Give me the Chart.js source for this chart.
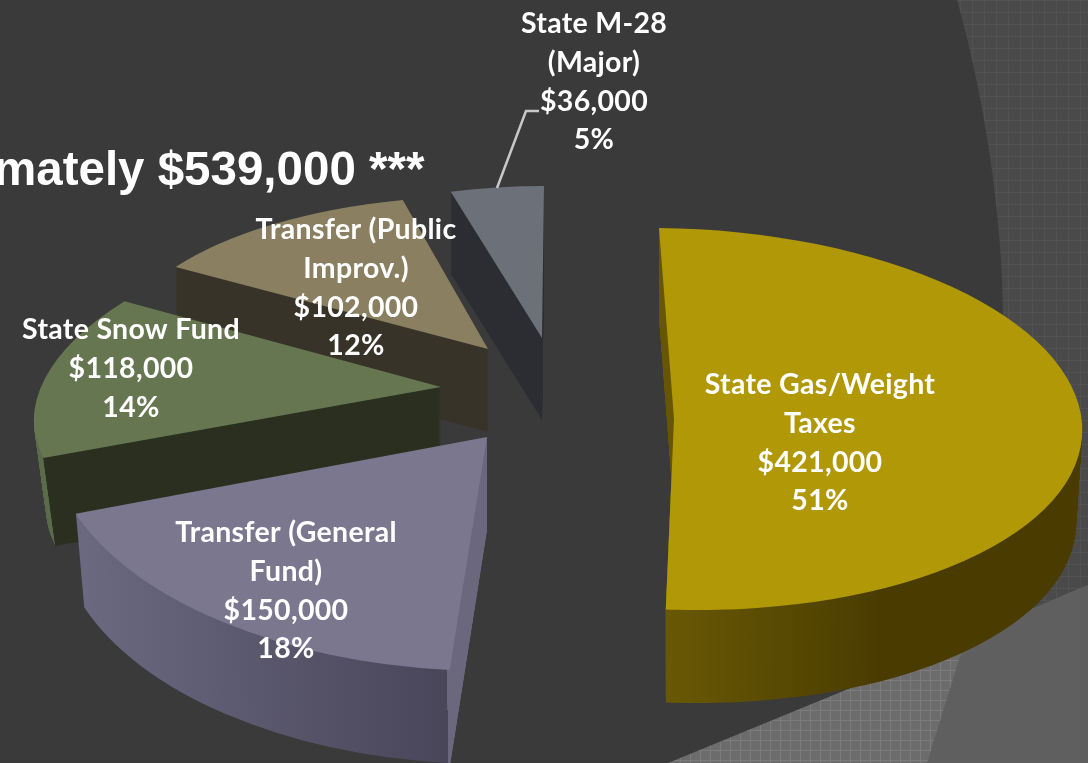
<!DOCTYPE html>
<html>
<head>
<meta charset="utf-8">
<style>
  html, body { margin: 0; padding: 0; background: #3a3a3a; overflow: hidden; }
  #chart { display: block; }
</style>
<script src="https://cdn.jsdelivr.net/npm/chart.js@4"></script>
</head>
<body>
<canvas id="chart" width="1088" height="763"></canvas>
<script>
const sources = ['State Gas/Weight Taxes', 'Transfer (General Fund)', 'State Snow Fund', 'Transfer (Public Improv.)', 'State M-28 (Major)'];
const amounts = [421000, 150000, 118000, 102000, 36000];
const percents = [51, 18, 14, 12, 5];
const labelLines = [['State Gas/Weight', 'Taxes'], ['Transfer (General', 'Fund)'], ['State Snow Fund'], ['Transfer (Public', 'Improv.)'], ['State M-28', '(Major)']];
const topColors = ['#b09807', '#7a778f', '#667651', '#8a8061', '#6c7078'];
const titleText = 'mately $539,000 ***';

// where each exploded slice lands on the page: x, y, a, b, c, d (fake 3d tilt)
const placement = [
  [674, 419, 408, 15, 4, 191],
  [487, 437, 437, -12.5, 9.3, 234],
  [441, 387, 402, -64, -5.2, 181],
  [488, 349, 369, -15, 6.4, 153],
  [542, 338, 345, -2, 0, 152]
];
const depths = [93, 93, 88, 83, 82];
const tapers = [0.985, 0.98, 0.97, 1, 1];
// side wall colours: [page x before tilt, colour], double stops make a hard edge
const sideStops = [
  [[640, '#6a5a05'], [670, '#665605'], [870, '#4a3c00'], [1088, '#4a3c00']],
  [[50, '#6e6c84'], [459.6, '#49465a'], [459.6, '#6b687e'], [500, '#6b687e']],
  [[30, '#5a6a4b'], [66, '#5a6a4b'], [66, '#2a2f20'], [450, '#2a2f20']],
  [[170, '#383328'], [490, '#383328']],
  [[450, '#2c2d33'], [545, '#2c2d33']]
];
const drawOrder = [4, 3, 2, 1, 0];
const labelAnchors = [[820, 385], [286, 533], [131, 330], [356, 230], [594, 24]];
const lineHeight = 38.7;

function gridPattern(ctx, base, line, size) {
  let c = document.createElement('canvas');
  c.width = size;
  c.height = size;
  let g = c.getContext('2d');
  g.fillStyle = base;
  g.fillRect(0, 0, size, size);
  g.fillStyle = line;
  g.fillRect(0, 0, size, 1);
  g.fillRect(0, 0, 1, size);
  return ctx.createPattern(c, 'repeat');
}

function drawBackdrop(ctx) {
  ctx.fillStyle = '#3a3a3a';
  ctx.fillRect(0, 0, 1088, 763);
  // the theme's big curved swoosh on the right, its lower part sits behind the gold slice
  ctx.fillStyle = gridPattern(ctx, '#4a4a4a', '#525252', 12);
  ctx.beginPath();
  ctx.moveTo(957, 0);
  ctx.bezierCurveTo(985, 100, 1003, 220, 1003, 320);
  ctx.lineTo(900, 650);
  ctx.lineTo(1088, 763);
  ctx.lineTo(1088, 0);
  ctx.closePath();
  ctx.fill();
  ctx.fillStyle = gridPattern(ctx, '#6c6c6c', '#7c7c7c', 10);
  ctx.beginPath();
  ctx.moveTo(668, 763);
  ctx.lineTo(853, 687);
  ctx.lineTo(1013, 617);
  ctx.lineTo(1088, 585);
  ctx.lineTo(1088, 763);
  ctx.closePath();
  ctx.fill();
  ctx.fillStyle = '#5f5f5f';
  ctx.beginPath();
  ctx.moveTo(1088, 585);
  ctx.lineTo(1013, 617);
  ctx.lineTo(962, 650);
  ctx.lineTo(927, 763);
  ctx.lineTo(1088, 763);
  ctx.closePath();
  ctx.fill();
}

function placeArc(ctx, arc, p, shrink, dy) {
  let r = arc.outerRadius;
  ctx.translate(p[0], p[1] + dy);
  ctx.transform(p[2] * shrink / r, p[4] / r, p[3] * shrink / r, p[5] / r, 0, 0);
  ctx.translate(-arc.x, -arc.y);
}

function sideGradient(ctx, arc, i) {
  // stops are page x, the gradient lives in the arc's own coordinates
  let p = placement[i];
  let r = arc.outerRadius;
  let stops = sideStops[i];
  let x0 = stops[0][0];
  let x1 = stops[stops.length - 1][0];
  let grad = ctx.createLinearGradient(arc.x + (x0 - p[0]) * r / p[2], 0, arc.x + (x1 - p[0]) * r / p[2], 0);
  stops.forEach(s => grad.addColorStop((s[0] - x0) / (x1 - x0), s[1]));
  return grad;
}

const pie3d = {
  id: 'pie3d',
  beforeDatasetsDraw(chart) {
    let ctx = chart.ctx;
    let arcs = chart.getDatasetMeta(0).data;
    drawBackdrop(ctx);

    ctx.save();
    ctx.fillStyle = '#ffffff';
    ctx.font = 'bold 47.5px "Liberation Sans"';
    ctx.textAlign = 'left';
    ctx.textBaseline = 'alphabetic';
    ctx.fillText(titleText, -6, 185);
    ctx.restore();

    drawOrder.forEach(i => {
      let arc = arcs[i];
      let p = placement[i];
      let depth = depths[i];
      let wall = Object.create(arc);
      let opts = {};
      for (let k of ['borderAlign', 'borderColor', 'borderDash', 'borderDashOffset', 'borderJoinStyle', 'borderWidth', 'circular', 'offset', 'spacing', 'borderRadius']) opts[k] = arc.options[k];
      opts.backgroundColor = sideGradient(ctx, arc, i);
      wall.options = opts;
      for (let d = depth; d > 0; d--) {
        ctx.save();
        placeArc(ctx, arc, p, 1 - (1 - tapers[i]) * d / depth, d);
        wall.draw(ctx);
        ctx.restore();
      }
      ctx.save();
      placeArc(ctx, arc, p, 1, 0);
      arc.draw(ctx);
      ctx.restore();
    });

    // leader line for the small slice
    ctx.save();
    ctx.strokeStyle = '#c8c8c8';
    ctx.lineWidth = 2.5;
    ctx.beginPath();
    ctx.moveTo(497, 188);
    ctx.lineTo(526, 111);
    ctx.lineTo(539, 111);
    ctx.stroke();

    ctx.fillStyle = '#ffffff';
    ctx.font = 'bold 28.5px Lato';
    ctx.letterSpacing = '0.3px';
    ctx.textAlign = 'center';
    ctx.textBaseline = 'middle';
    sources.forEach((s, i) => {
      let lines = labelLines[i].concat(['$' + amounts[i].toLocaleString('en-US'), percents[i] + '%']);
      lines.forEach((line, n) => {
        ctx.fillText(line, labelAnchors[i][0], labelAnchors[i][1] + n * lineHeight);
      });
    });
    ctx.restore();
    return false;
  }
};

const chart = new Chart(document.getElementById('chart'), {
  type: 'pie',
  data: {
    labels: sources,
    datasets: [{ data: amounts, backgroundColor: topColors, borderWidth: 0 }]
  },
  options: {
    responsive: false,
    animation: false,
    layout: { padding: 0 },
    plugins: { legend: { display: false }, tooltip: { enabled: false }, title: { display: false } }
  },
  plugins: [pie3d]
});
</script>
</body>
</html>
